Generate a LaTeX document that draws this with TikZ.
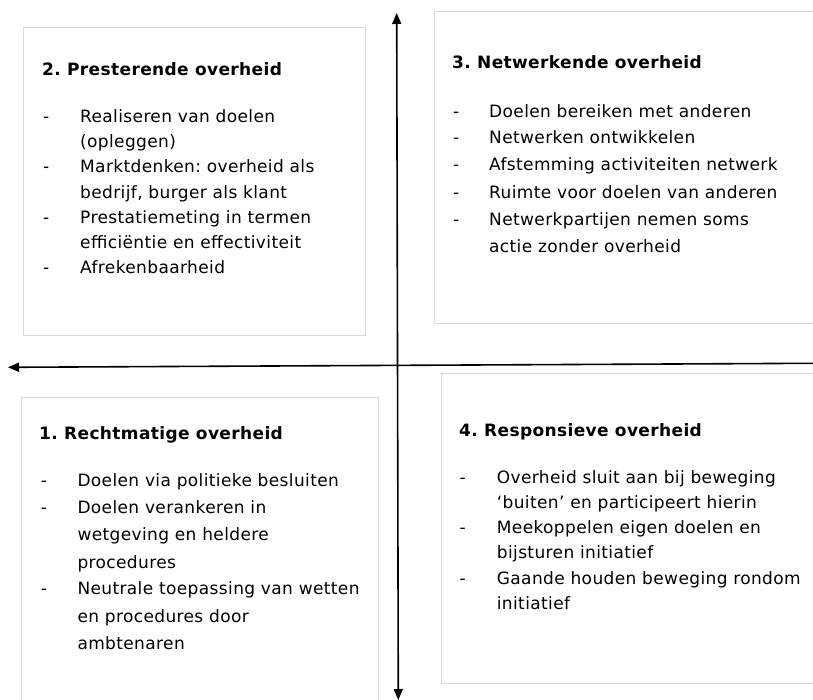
\documentclass[tikz,border=0pt]{standalone}
\usepackage{fontspec}
\setmainfont{DejaVu Sans}[LetterSpace=2.2]
\usetikzlibrary{arrows.meta}
\frenchspacing
\tikzset{
  quad/.style={draw=black!15, line width=0.8pt},
  ttl/.style={anchor=base west, inner sep=0pt, font=\fontsize{17}{20}\selectfont\bfseries},
  itm/.style={anchor=base west, inner sep=0pt, font=\fontsize{17}{20}\selectfont},
  axis/.style={line width=1.6pt, -{Triangle[length=11pt,width=9pt]}}
}
\begin{document}
\begin{tikzpicture}[x=1pt,y=-1pt]
\useasboundingbox (0,0) rectangle (813,700);
\clip (0,0) rectangle (813,700);
% boxes
\draw[quad] (23,27) rectangle (365,335);
\draw[quad] (434,11) rectangle (840,323);
\draw[quad] (21,397) rectangle (378,740);
\draw[quad] (441,373) rectangle (840,683);
% axes
\coordinate (vt) at (396.7,13);
\coordinate (vb) at (398.3,700);
\coordinate (hl) at (8,367.3);
\coordinate (hr) at (813,363.3);
\coordinate (vm) at (397.5,356);
\draw[axis] (vm) -- (vt);
\draw[axis] (vm) -- (vb);
\draw[axis] (hr) -- (hl);
% Box 2
\node[ttl] (t2) at (42,76) {2. Presterende overheid};
\node[itm] (d2a) at (43,122.7) {-};
\node[itm] (l2a) at (80,122.7) {Realiseren van doelen};
\node[itm] (l2b) at (80,147.7) {(opleggen)};
\node[itm] (d2c) at (43,172.7) {-};
\node[itm] (l2c) at (80,172.7) {Marktdenken: overheid als};
\node[itm] (l2d) at (80,198.7) {bedrijf, burger als klant};
\node[itm] (d2e) at (43,224) {-};
\node[itm] (l2e) at (80,224) {Prestatiemeting in termen};
\node[itm] (l2f) at (80,249) {efficiëntie en effectiviteit};
\node[itm] (d2g) at (43,274) {-};
\node[itm] (l2g) at (80,274) {Afrekenbaarheid};
% Box 3
\node[ttl] (t3) at (452,69) {3. Netwerkende overheid};
\node[itm] (d3a) at (453,118) {-};
\node[itm] (l3a) at (489,118) {Doelen bereiken met anderen};
\node[itm] (d3b) at (453,144) {-};
\node[itm] (l3b) at (489,144) {Netwerken ontwikkelen};
\node[itm] (d3c) at (453,171) {-};
\node[itm] (l3c) at (489,171) {Afstemming activiteiten netwerk};
\node[itm] (d3d) at (453,199) {-};
\node[itm] (l3d) at (489,199) {Ruimte voor doelen van anderen};
\node[itm] (d3e) at (453,226) {-};
\node[itm] (l3e) at (489,226) {Netwerkpartijen nemen soms};
\node[itm] (l3f) at (489,253) {actie zonder overheid};
% Box 1
\node[ttl] (t1) at (39,439) {1. Rechtmatige overheid};
\node[itm] (d1a) at (40.7,486) {-};
\node[itm] (l1a) at (77.3,486) {Doelen via politieke besluiten};
\node[itm] (d1b) at (40.7,513) {-};
\node[itm] (l1b) at (77.3,513) {Doelen verankeren in};
\node[itm] (l1c) at (77.3,540) {wetgeving en heldere};
\node[itm] (l1d) at (77.3,568) {procedures};
\node[itm] (d1e) at (40.7,594) {-};
\node[itm] (l1e) at (77.3,594) {Neutrale toepassing van wetten};
\node[itm] (l1f) at (77.3,622) {en procedures door};
\node[itm] (l1g) at (77.3,649) {ambtenaren};
% Box 4
\node[ttl] (t4) at (459,436) {4. Responsieve overheid};
\node[itm] (d4a) at (459.3,483) {-};
\node[itm] (l4a) at (496.7,483) {Overheid sluit aan bij beweging};
\node[itm] (l4b) at (496.7,508) {‘buiten’ en participeert hierin};
\node[itm] (d4c) at (459.3,533) {-};
\node[itm] (l4c) at (496.7,533) {Meekoppelen eigen doelen en};
\node[itm] (l4d) at (496.7,558) {bijsturen initiatief};
\node[itm] (d4e) at (459.3,584) {-};
\node[itm] (l4e) at (496.7,584) {Gaande houden beweging rondom};
\node[itm] (l4f) at (496.7,609) {initiatief};
\end{tikzpicture}
\end{document}
